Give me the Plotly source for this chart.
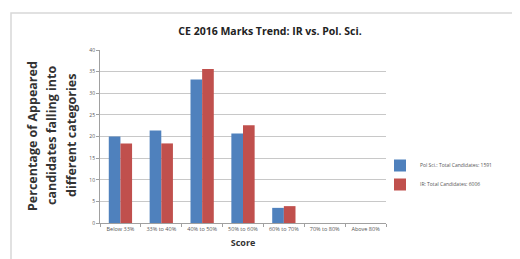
import plotly.graph_objects as go

categories = ["Below 33%", "33% to 40%", "40% to 50%", "50% to 60%", "60% to 70%", "70% to 80%", "Above 80%"]
pol_sci = [20.0, 21.4, 33.2, 20.7, 3.5, 0, 0]
ir = [18.4, 18.4, 35.6, 22.6, 3.9, 0, 0]
y_ticks = [0, 5, 10, 15, 20, 25, 30, 35, 40]
y_title_lines = ["Percentage of Appeared", "candidates falling into", "different categories"]

fig = go.Figure()
fig.add_trace(go.Bar(x=categories, y=pol_sci, name="Pol Sci.: Total Candidates: 1591",
                     marker=dict(color="#4F81BD", line=dict(width=0))))
fig.add_trace(go.Bar(x=categories, y=ir, name="IR: Total Candidates: 6006",
                     marker=dict(color="#C0504D", line=dict(width=0))))

W, H = 520, 259
ml, mr, mt, mb = 92, 142, 42, 44
pw, ph = W - ml - mr, H - mt - mb

def px_x(x):
    return (x - ml) / pw

def px_y(y):
    return (H - mb - y) / ph

annotations = []
for line, xc in zip(y_title_lines, [24, 43, 63]):
    annotations.append(dict(text="<b>" + line + "</b>", xref="paper", yref="paper",
                            x=px_x(xc), y=px_y(128), xanchor="center", yanchor="middle",
                            textangle=-90, showarrow=False,
                            font=dict(size=12.5, color="#333", family="Open Sans")))

fig.update_layout(
    width=W, height=H,
    margin=dict(l=ml, r=mr, t=mt, b=mb),
    paper_bgcolor="white", plot_bgcolor="white",
    font=dict(family="Open Sans", color="#404040"),
    barmode="group", bargap=0.43, bargroupgap=0,
    title=dict(text="<b>CE 2016 Marks Trend: IR vs. Pol. Sci.</b>", x=262 / W, xanchor="center",
               y=1 - 23 / H, yanchor="middle", font=dict(size=10.5, color="#222", family="Open Sans")),
    legend=dict(x=px_x(372), y=px_y(143), xanchor="left", yanchor="top",
                font=dict(size=5, color="#555"), itemwidth=30, tracegroupgap=2,
                bgcolor="rgba(0,0,0,0)"),
    showlegend=True,
    annotations=annotations,
    shapes=[dict(type="rect", xref="paper", yref="paper",
                 x0=px_x(3), x1=px_x(518), y0=px_y(256), y1=px_y(5),
                 line=dict(color="#d8d8d8", width=1.5), layer="below")],
)
fig.update_xaxes(
    showline=True, linecolor="#a0a0a0", linewidth=1,
    ticks="outside", tickson="boundaries", ticklen=3, tickcolor="#a0a0a0",
    tickfont=dict(size=5.5, color="#555"), tickangle=0,
    title=dict(text="<b>Score</b>", font=dict(size=9, color="#333"), standoff=8),
)
fig.update_yaxes(
    range=[0, 40], tickvals=y_ticks, showgrid=True, gridcolor="#c8c8c8", gridwidth=1,
    showline=True, linecolor="#a0a0a0", ticks="outside", ticklen=3, tickcolor="#a0a0a0",
    tickfont=dict(size=5, color="#555"), zeroline=False,
)
fig.write_html("out.html")
